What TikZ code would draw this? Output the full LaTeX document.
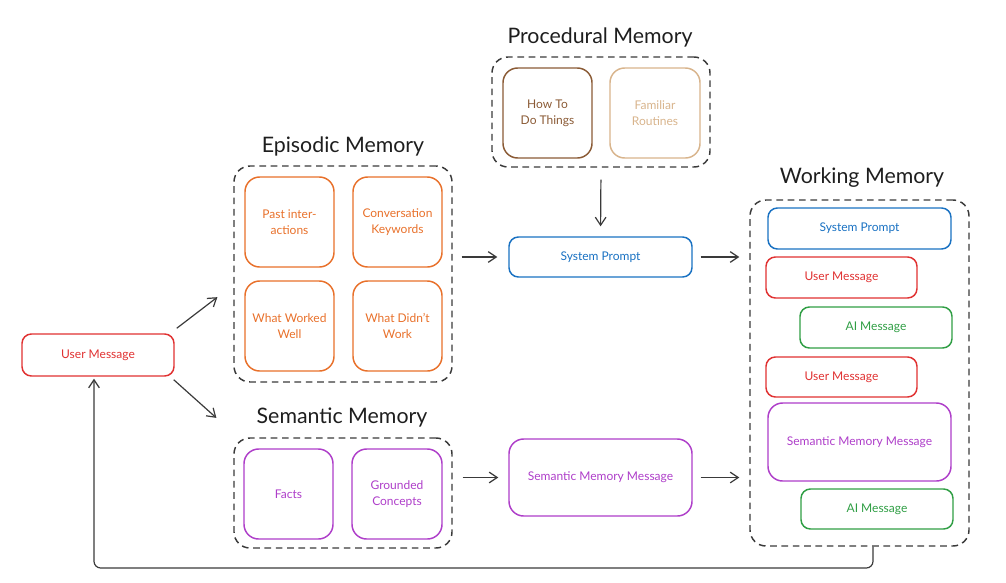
\documentclass[tikz,border=0pt]{standalone}
\usepackage{fontspec}
\setmainfont{Lato}
\usetikzlibrary{arrows.meta,calc}
\definecolor{ink}{HTML}{1E1E1E}
\definecolor{linec}{HTML}{3A3A3A}
\definecolor{orangec}{HTML}{E8702A}
\definecolor{redc}{HTML}{E03131}
\definecolor{greenc}{HTML}{2F9E44}
\definecolor{bluec}{HTML}{1971C2}
\definecolor{purplec}{HTML}{AE3EC9}
\definecolor{brownc}{HTML}{8A5A35}
\definecolor{tanc}{HTML}{D8B48C}
\begin{document}
\begin{tikzpicture}[x=0.75pt,y=-0.75pt,
  bx/.style 2 args={minimum width=#1*0.75pt, minimum height=#2*0.75pt, inner sep=0pt},
  card/.style={draw=#1, text=#1, line width=1.1pt, rounded corners=11pt, align=center,
     font=\fontsize{9}{12}\selectfont},
  pill/.style={draw=#1, text=#1, line width=1.1pt, rounded corners=7pt, align=center,
     font=\fontsize{9}{12}\selectfont},
  group/.style={draw=linec, line width=1.1pt, dash pattern=on 5pt off 3.5pt, rounded corners=12pt},
  ttl/.style={text=ink, font=\fontsize{16}{19}\selectfont},
  arr/.style={draw=linec, line width=0.9pt, -{Straight Barb[length=6pt,width=8pt]}}
]
\useasboundingbox (0,0) rectangle (1006,582);

% Episodic
\node[ttl] (tepi) at (343,146) {Episodic Memory};
\node[group, bx={218}{216}] (epi) at (343,274) {};
\node[card=orangec, bx={89}{90}] (pi) at (289.5,222) {Past inter-\\actions};
\node[card=orangec, bx={89}{90}] (ck) at (397.5,222) {Conversation\\Keywords};
\node[card=orangec, bx={89}{90}] (ww) at (289.5,326) {What Worked\\Well};
\node[card=orangec, bx={89}{90}] (wd) at (397.5,326) {What Didn't\\Work};

% Procedural
\node[ttl] (tproc) at (600,37) {Procedural Memory};
\node[group, bx={218}{110}] (proc) at (601,112) {};
\node[card=brownc, bx={89}{90}] (ht) at (547.5,113) {How To\\Do Things};
\node[card=tanc, bx={90}{90}] (fr) at (655,113) {Familiar\\Routines};

% System prompt
\node[pill=bluec, bx={183}{40}] (sp) at (600.5,257) {System Prompt};

% Semantic
\node[ttl] (tsem) at (342,418) {Semantic Memory};
\node[group, bx={218}{110}] (sem) at (343,493) {};
\node[card=purplec, bx={89}{90}] (facts) at (288.5,494) {Facts};
\node[card=purplec, bx={90}{90}] (gc) at (397,494) {Grounded\\Concepts};
\node[card=purplec, bx={183}{77}] (smm) at (600.5,477.5) {Semantic Memory Message};

% Working memory
\node[ttl] (twm) at (862,178) {Working Memory};
\node[group, bx={219}{346}] (wm) at (859.5,373) {};
\node[pill=bluec, bx={183}{41}] (wsp) at (859.5,228.5) {System Prompt};
\node[pill=redc, bx={151}{41}] (wu1) at (841.5,277.5) {User Message};
\node[pill=greenc, bx={152}{41}] (wa1) at (876,327.5) {AI Message};
\node[pill=redc, bx={151}{40}] (wu2) at (841.5,377) {User Message};
\node[card=purplec, bx={183}{78}] (wsm) at (859.5,442) {Semantic Memory Message};
\node[pill=greenc, bx={152}{40}] (wa2) at (877,509) {AI Message};

% User message
\node[pill=redc, bx={152}{42}] (um) at (98,355) {User Message};

% Connectors
\draw[arr, shorten >=15pt] ([shift={(2,-5)}]um.north east) -- ([shift={(0,11)}]epi.west);
\draw[arr, shorten >=17pt] ([shift={(-1,3)}]um.south east) -- ([shift={(0,-60)}]sem.west);
\draw[arr, shorten <=6.75pt, shorten >=8.25pt] (epi.east |- sp.west) -- (sp.west);
\draw[arr, shorten <=9pt, shorten >=7.5pt] (proc.south) -- (sp.north);
\draw[arr, shorten <=6pt, shorten >=7.5pt] (sp.east) -- (wm.west |- sp.east);
\draw[arr, shorten <=7.5pt, shorten >=7.5pt] (sem.east |- smm.west) -- (smm.west);
\draw[arr, shorten <=6pt, shorten >=7.5pt] (smm.east) -- (wm.west |- smm.east);
\coordinate (loop) at (94,568);
\coordinate (loopr) at (873,568);
\draw[arr, rounded corners=5pt] ([shift={(13.5,0)}]wm.south) -- (loopr) -- (loop) -- ([shift={(-4,2)}]um.south);
\end{tikzpicture}
\end{document}
